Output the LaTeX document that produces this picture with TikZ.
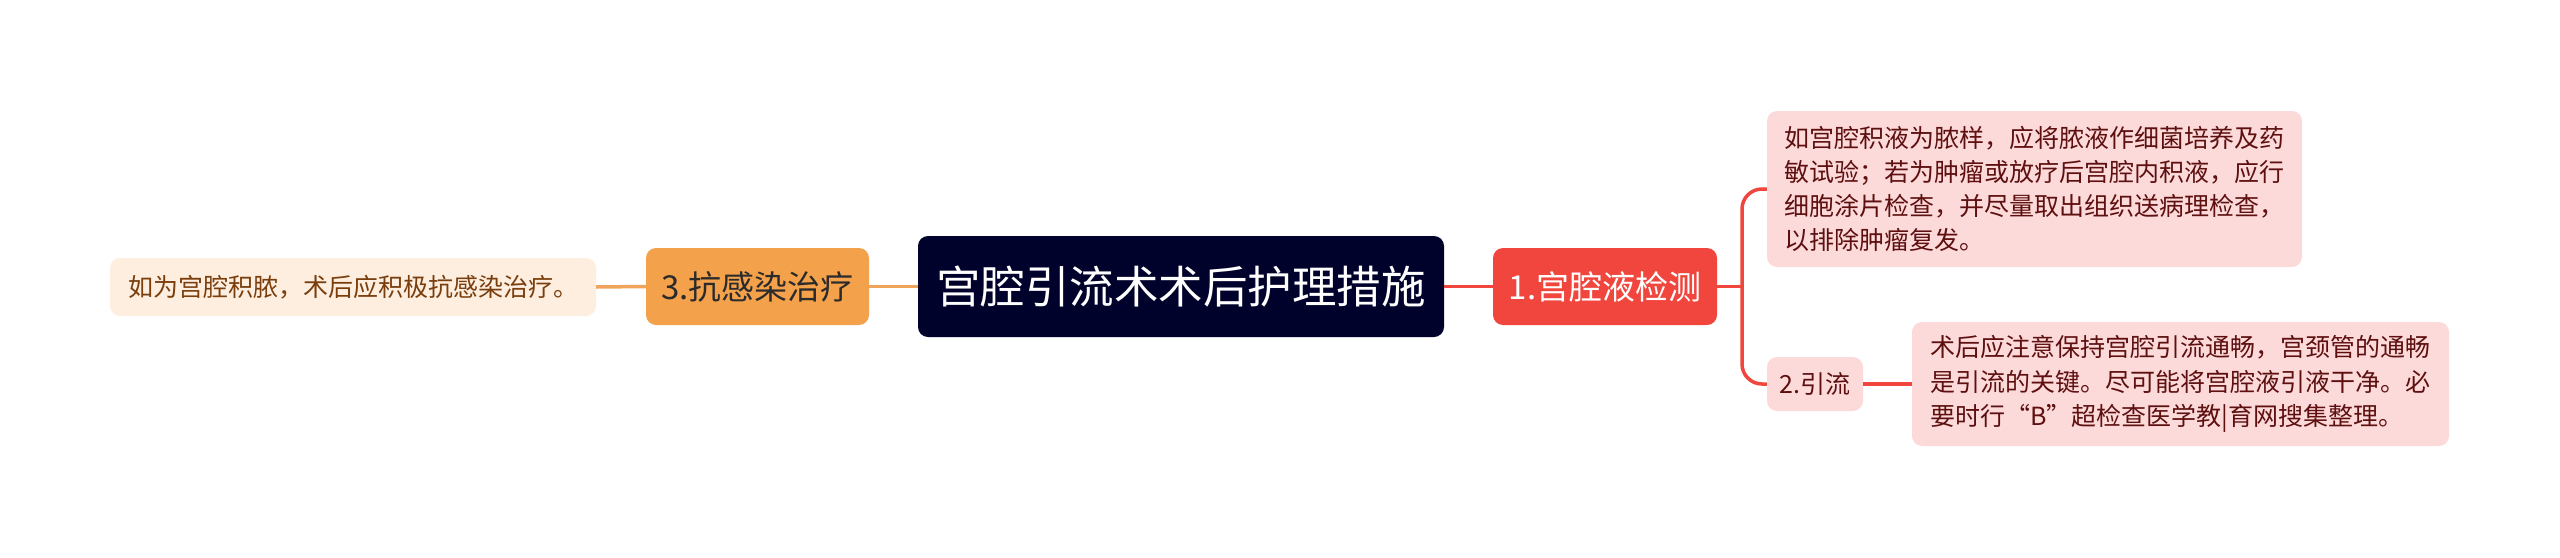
\documentclass[tikz,border=0pt]{standalone}
\usepackage{fontspec}
\newfontfamily\cjk{Noto Sans CJK SC}
\definecolor{rootc}{HTML}{00022B}
\definecolor{orangec}{HTML}{F4A14C}
\definecolor{orangeline}{HTML}{F0A35A}
\definecolor{leafo}{HTML}{FDEEDF}
\definecolor{leafotext}{HTML}{7A3D0C}
\definecolor{redc}{HTML}{F0463E}
\definecolor{pinkc}{HTML}{FDDADA}
\definecolor{pinktext}{HTML}{5E1010}
\definecolor{darktext}{HTML}{2B2B2B}
\tikzset{
  box/.style={rounded corners=10pt, inner sep=0pt, align=center},
  rootbox/.style={box, fill=rootc, text=white, font={\cjk\fontsize{44.5pt}{50pt}\selectfont}},
  obox/.style={box, fill=orangec, text=darktext, font={\cjk\fontsize{33pt}{38pt}\selectfont}},
  rbox/.style={box, fill=redc, text=white, font={\cjk\fontsize{33pt}{38pt}\selectfont}},
  oleaf/.style={box, fill=leafo, text=leafotext, font={\cjk\fontsize{25pt}{34.3pt}\selectfont}},
  pleaf/.style={box, align=left, fill=pinkc, text=pinktext, font={\cjk\fontsize{25pt}{34.3pt}\selectfont}},
  oline/.style={draw=orangeline, line width=3.5pt},
  rline/.style={draw=redc, line width=3.5pt, rounded corners=20pt},
}
\begin{document}
\begin{tikzpicture}[x=1pt,y=-1pt]
\useasboundingbox (0,0) rectangle (2560,557);
\node[rootbox, minimum width=526pt, minimum height=101pt] (root) at (1181,286.5) {宫腔引流术术后护理措施};
\node[obox, minimum width=223pt, minimum height=77pt] (n3) at (757.5,286.5) {3.抗感染治疗};
\node[oleaf, minimum width=486pt, minimum height=58pt] (l3) at (353,287) {如为宫腔积脓，术后应积极抗感染治疗。};
\node[rbox, minimum width=224pt, minimum height=77pt] (n1) at (1605,286.5) {1.宫腔液检测};
\node[pleaf, minimum width=535pt, minimum height=156pt] (l1) at (2034.5,189) {如宫腔积液为脓样，应将脓液作细菌培养及药\\敏试验；若为肿瘤或放疗后宫腔内积液，应行\\细胞涂片检查，并尽量取出组织送病理检查，\\以排除肿瘤复发。};
\node[pleaf, align=center, minimum width=96pt, minimum height=54pt] (l2) at (1815,384) {2.引流};
\node[pleaf, minimum width=537pt, minimum height=124pt] (l2t) at (2180.5,384) {术后应注意保持宫腔引流通畅，宫颈管的通畅\\是引流的关键。尽可能将宫腔液引液干净。必\\要时行“B”超检查医学教|育网搜集整理。};
\coordinate (bx) at (1742,286.5);
\draw[oline] (root.west) -- (n3.east);
\draw[oline] (n3.west) -- (l3.east);
\draw[rline] (root.east) -- (n1.west);
\draw[rline] (n1.east) -- (bx);
\draw[rline] (l1.west) -| (bx) |- (l2.west);
\draw[rline] (l2.east) -- (l2t.west);
\end{tikzpicture}
\end{document}
